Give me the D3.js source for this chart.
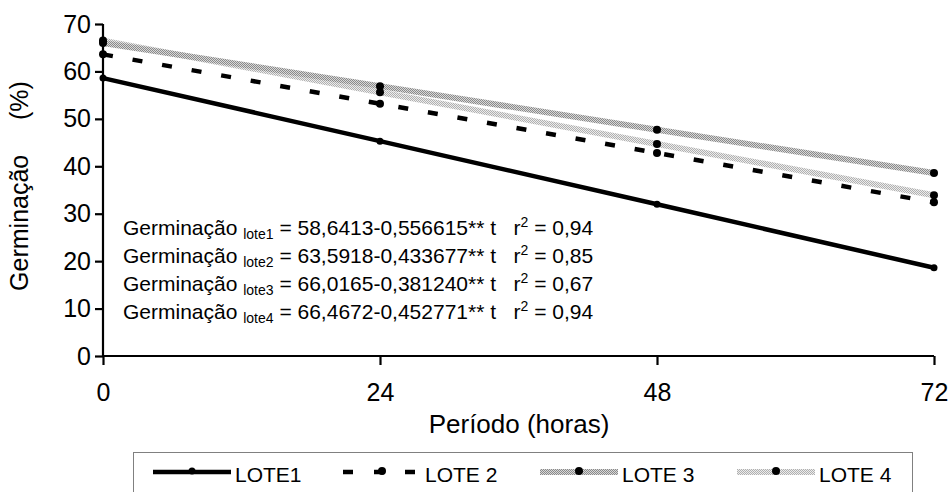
<!DOCTYPE html>
<html>
<head>
<meta charset="utf-8">
<script src="https://cdn.jsdelivr.net/npm/d3@7"></script>
<style>
  body { margin: 0; background: #fff; }
  text { font-family: "Liberation Sans", Arial, sans-serif; fill: #000; white-space: pre; }
</style>
</head>
<body>
<div id="chart"></div>
<script>
var width = 950, height = 492;

// dados
var horas = [0, 24, 48, 72];
var lote1 = [58.6, 45.3, 32.0, 18.6];
var lote2 = [63.6, 53.2, 42.8, 32.4];
var lote3 = [66.0, 56.9, 47.7, 38.6];
var lote4 = [66.5, 55.6, 44.7, 33.9];
var yTicks = [0, 10, 20, 30, 40, 50, 60, 70];
var xTicks = [0, 24, 48, 72];
var legendNames = ["LOTE1", "LOTE 2", "LOTE 3", "LOTE 4"];
var eqNames = ["lote1", "lote2", "lote3", "lote4"];
var eqBody = ["58,6413-0,556615** t   r", "63,5918-0,433677** t   r", "66,0165-0,381240** t   r", "66,4672-0,452771** t   r"];
var eqR2 = ["0,94", "0,85", "0,67", "0,94"];

var svg = d3.select("#chart").append("svg")
    .attr("width", width)
    .attr("height", height);

// texturas cinza das linhas dos lotes 3 e 4
var defs = svg.append("defs");
function makePattern(id, dark, light) {
  var p = defs.append("pattern").attr("id", id)
      .attr("patternUnits", "userSpaceOnUse")
      .attr("width", 2).attr("height", 2);
  p.append("rect").attr("width", 2).attr("height", 2).attr("fill", light);
  p.append("rect").attr("width", 1).attr("height", 1).attr("fill", dark);
  p.append("rect").attr("x", 1).attr("y", 1).attr("width", 1).attr("height", 1).attr("fill", dark);
}
makePattern("pat3", "#8a8a8a", "#d8d8d8");
makePattern("pat4", "#b0b0b0", "#ececec");

var x = d3.scaleLinear().domain([0, 72]).range([103, 934]);
var y = d3.scaleLinear().domain([0, 70]).range([356, 24]);

var series = [
  {name: legendNames[3], values: lote4, stroke: "url(#pat4)", width: 6, dash: null, r: 4},
  {name: legendNames[2], values: lote3, stroke: "url(#pat3)", width: 6, dash: null, r: 4},
  {name: legendNames[1], values: lote2, stroke: "#000", width: 4.5, dash: "10,20", r: 4},
  {name: legendNames[0], values: lote1, stroke: "#000", width: 4.5, dash: null, r: 3.5}
];

// eixos
var yAxis = svg.append("g")
    .attr("transform", `translate(${x(0)},0)`)
    .call(d3.axisLeft(y).tickValues(yTicks).tickSize(8).tickPadding(4));
var xAxis = svg.append("g")
    .attr("transform", `translate(0,${y(0)})`)
    .call(d3.axisBottom(x).tickValues(xTicks).tickSize(9).tickPadding(18));

[yAxis, xAxis].forEach(function(ax) {
  ax.select(".domain").attr("stroke", "#000").attr("stroke-width", 2.2);
  ax.selectAll(".tick line").attr("stroke", "#000").attr("stroke-width", 2.2);
  ax.selectAll(".tick text").style("font-size", "25px").attr("fill", "#000")
    .style("font-family", "Liberation Sans, Arial, sans-serif");
});
yAxis.select(".domain").attr("d", `M0,${y(70)}V${y(0)}`);
xAxis.select(".domain").attr("d", `M${x(0)},0H${x(72)}`);

// linhas e pontos
var line = d3.line()
    .x(function(d, i) { return x(horas[i]); })
    .y(function(d) { return y(d); });

series.forEach(function(s) {
  svg.append("path")
      .datum(s.values)
      .attr("d", line)
      .attr("fill", "none")
      .attr("stroke", s.stroke)
      .attr("stroke-width", s.width)
      .attr("stroke-dasharray", s.dash);
});
series.forEach(function(s) {
  svg.selectAll(null)
      .data(s.values)
      .enter()
      .append("circle")
      .attr("cx", function(d, i) { return x(horas[i]); })
      .attr("cy", function(d) { return y(d); })
      .attr("r", s.r)
      .attr("fill", "#000");
});

// titulos
svg.append("text")
    .attr("x", 519).attr("y", 433)
    .style("text-anchor", "middle")
    .style("font-size", "26px")
    .text("Período (horas)");

svg.append("text")
    .attr("transform", "translate(28,186) rotate(-90)")
    .style("text-anchor", "middle")
    .style("font-size", "25px")
    .text("Germinação     (%)");

// equacoes
eqNames.forEach(function(n, i) {
  var t = svg.append("text")
      .attr("x", 123)
      .attr("y", 235 + i * 28)
      .style("font-size", "21px");
  t.append("tspan").text("Germinação ");
  t.append("tspan").attr("dy", 4).style("font-size", "14px").text(n);
  t.append("tspan").attr("dy", -4).text(" = " + eqBody[i]);
  t.append("tspan").attr("dy", -8).style("font-size", "14px").text("2");
  t.append("tspan").attr("dy", 8).text(" = " + eqR2[i]);
});

// legenda
var legend = svg.append("g");
legend.append("rect")
    .attr("x", 133.5).attr("y", 452.5)
    .attr("width", 779).attr("height", 60)
    .attr("fill", "none")
    .attr("stroke", "#808080")
    .attr("stroke-width", 1);

var legendX = [153, 343, 540, 737];
var legendOrder = [series[3], series[2], series[1], series[0]];
legendOrder.forEach(function(s, i) {
  var x0 = legendX[i];
  legend.append("line")
      .attr("x1", x0).attr("x2", x0 + 78)
      .attr("y1", 472).attr("y2", 472)
      .attr("stroke", s.stroke)
      .attr("stroke-width", s.width)
      .attr("stroke-dasharray", s.dash ? "10,21" : null);
  legend.append("circle")
      .attr("cx", x0 + 39).attr("cy", 471)
      .attr("r", s.r)
      .attr("fill", "#000");
  legend.append("text")
      .attr("x", x0 + 82).attr("y", 482)
      .style("font-size", "21px")
      .text(s.name);
});
</script>
</body>
</html>
